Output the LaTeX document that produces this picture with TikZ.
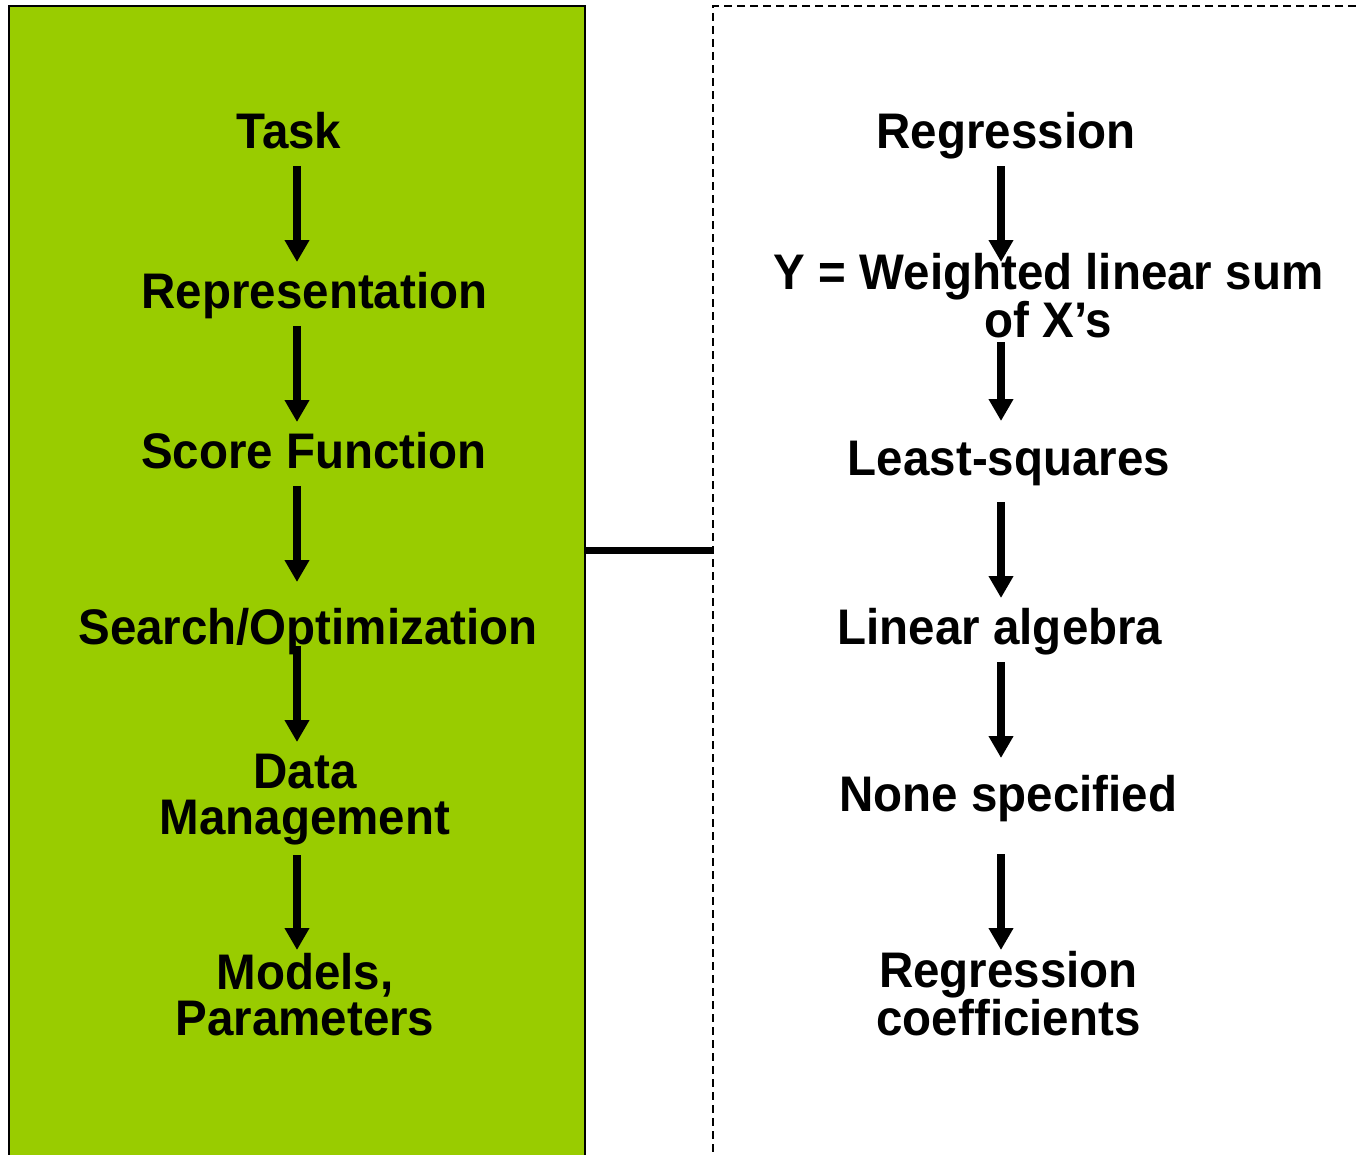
\documentclass[tikz,border=0pt]{standalone}
\usepackage{fontspec}
\setmainfont{Liberation Sans}[FakeStretch=0.95]
\usetikzlibrary{arrows.meta}
\definecolor{boxgreen}{HTML}{99CC00}
\begin{document}
\begin{tikzpicture}[x=1pt,y=-1pt,
  lbl/.style={font=\fontsize{50}{46}\selectfont\bfseries, inner sep=0pt, anchor=base, align=center},
  arr/.style={line width=7.3pt, -{Triangle[width=23.5pt,length=22pt]}},
  panel/.style={inner sep=0pt, outer sep=0pt, anchor=north west, minimum height=1154pt}
]
\useasboundingbox (0,0) rectangle (1356,1154);
% panels
\node[panel, draw=black, line width=2pt, fill=boxgreen, minimum width=576pt] (lbox) at (9,6) {};
\node[panel, draw=black, line width=1.5pt, dash pattern=on 8pt off 5pt, minimum width=700pt] (rbox) at (713,6) {};
\draw[line width=7pt] ([yshift=33pt]lbox.east) -- ([yshift=33pt]rbox.west);
% left column (multi-line nodes: base = last line)
\node[lbl] (task)   at (289,148)   {Task};
\node[lbl] (repr)   at (314.5,308) {Representation};
\node[lbl] (score)  at (314,468)   {Score Function};
\node[lbl] (search) at (308,644)   {Search/Optimization};
\node[lbl] (data)   at (305,834)   {Data\\Management};
\node[lbl] (models) at (305,1035)  {Models,\\Parameters};
% right column
\node[lbl] (regr)   at (1006,148)   {Regression};
\node[lbl] (wsum)   at (1048.5,337) {Y = Weighted linear sum\\of X’s};
\node[lbl] (lsq)    at (1009,475)   {Least-squares};
\node[lbl] (linalg) at (1000,644)   {Linear algebra};
\node[lbl] (none)   at (1008.5,811) {None specified};
\node[lbl] (coef)   at (1008.5,1035) {Regression\\coefficients};
% arrows
\coordinate (lx) at (297,0);
\coordinate (rx) at (1001,0);
\draw[arr] ([yshift=-18pt]task.base -| lx)   -- ([yshift=46pt]repr.base -| lx);
\draw[arr] ([yshift=-18pt]repr.base -| lx)   -- ([yshift=46pt]score.base -| lx);
\draw[arr] ([yshift=-18pt]score.base -| lx)  -- ([yshift=62pt]search.base -| lx);
\draw[arr] ([yshift=-2pt]search.base -| lx)  -- ([yshift=92pt]data.base -| lx);
\draw[arr] ([yshift=-21pt]data.base -| lx)   -- ([yshift=85pt]models.base -| lx);
\draw[arr] ([yshift=-18pt]regr.base -| rx)   -- ([yshift=75pt]wsum.base -| rx);
\draw[arr] ([yshift=-5pt]wsum.base -| rx)    -- ([yshift=54pt]lsq.base -| rx);
\draw[arr] ([yshift=-27pt]lsq.base -| rx)    -- ([yshift=46pt]linalg.base -| rx);
\draw[arr] ([yshift=-18pt]linalg.base -| rx) -- ([yshift=53pt]none.base -| rx);
\draw[arr] ([yshift=-43pt]none.base -| rx)   -- ([yshift=85pt]coef.base -| rx);
\end{tikzpicture}
\end{document}
